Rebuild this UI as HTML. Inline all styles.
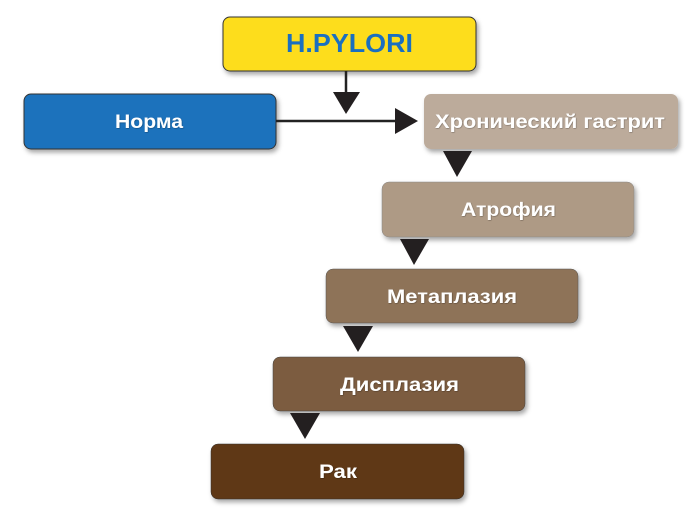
<!DOCTYPE html>
<html><head><meta charset="utf-8"><style>
html,body{margin:0;padding:0;background:#fff;}
svg{display:block}
text{font-family:"Liberation Sans",Arial,sans-serif;font-weight:bold;font-size:19px;}
</style></head><body>
<svg width="700" height="513" viewBox="0 0 700 513" xmlns="http://www.w3.org/2000/svg">
<defs>
<filter id="sh" x="-10%" y="-20%" width="130%" height="160%">
<feDropShadow dx="2" dy="3" stdDeviation="2.5" flood-color="#000" flood-opacity="0.35"/>
</filter>
<filter id="ts"><feDropShadow dx="0.5" dy="0.5" stdDeviation="0.6" flood-color="#000" flood-opacity="0.4"/></filter>
</defs>
<rect x="223" y="17" width="253" height="54" rx="7" fill="#fddd1a" stroke="#333" stroke-width="1" filter="url(#sh)"/>
<rect x="24" y="94" width="252" height="55" rx="7" fill="#1e72bc" stroke="#333" stroke-width="1" filter="url(#sh)"/>
<rect x="424" y="94" width="254" height="55" rx="7" fill="#bcab9b" filter="url(#sh)"/>
<rect x="382" y="182" width="252" height="55" rx="7" fill="#ae9a85" stroke="#888" stroke-width="0.5" filter="url(#sh)"/>
<rect x="326" y="269" width="252" height="54" rx="7" fill="#8e7358" stroke="#555" stroke-width="0.5" filter="url(#sh)"/>
<rect x="273" y="357" width="252" height="54" rx="7" fill="#7b5c40" stroke="#444" stroke-width="0.5" filter="url(#sh)"/>
<rect x="211" y="444" width="253" height="55" rx="7" fill="#5e3816" stroke="#333" stroke-width="0.5" filter="url(#sh)"/>
<line x1="346" y1="71" x2="346" y2="93" stroke="#222" stroke-width="2.5"/>
<polygon points="333,92 360,92 346,114" fill="#231f20"/>
<line x1="276" y1="121" x2="397" y2="121" stroke="#222" stroke-width="2.5"/>
<polygon points="395,108 395,134 418,121" fill="#231f20"/>
<polygon points="443,151 472,151 457,177" fill="#231f20"/>
<polygon points="400,239 429,239 414,265" fill="#231f20"/>
<polygon points="343,326 373,326 358,352" fill="#231f20"/>
<polygon points="290,413 320,413 305,439" fill="#231f20"/>
<text x="286" y="52" textLength="127" lengthAdjust="spacingAndGlyphs" fill="#1a6fc0" style="font-size:26px">H.PYLORI</text>
<g fill="#fff" filter="url(#ts)">
<text x="115" y="128" textLength="68" lengthAdjust="spacingAndGlyphs">Норма</text>
<text x="435" y="128" textLength="230" lengthAdjust="spacingAndGlyphs">Хронический гастрит</text>
<text x="461" y="216" textLength="95" lengthAdjust="spacingAndGlyphs">Атрофия</text>
<text x="387" y="303" textLength="130" lengthAdjust="spacingAndGlyphs">Метаплазия</text>
<text x="340" y="391" textLength="119" lengthAdjust="spacingAndGlyphs">Дисплазия</text>
<text x="319" y="478" textLength="38" lengthAdjust="spacingAndGlyphs">Рак</text>
</g>
</svg>
</body></html>
